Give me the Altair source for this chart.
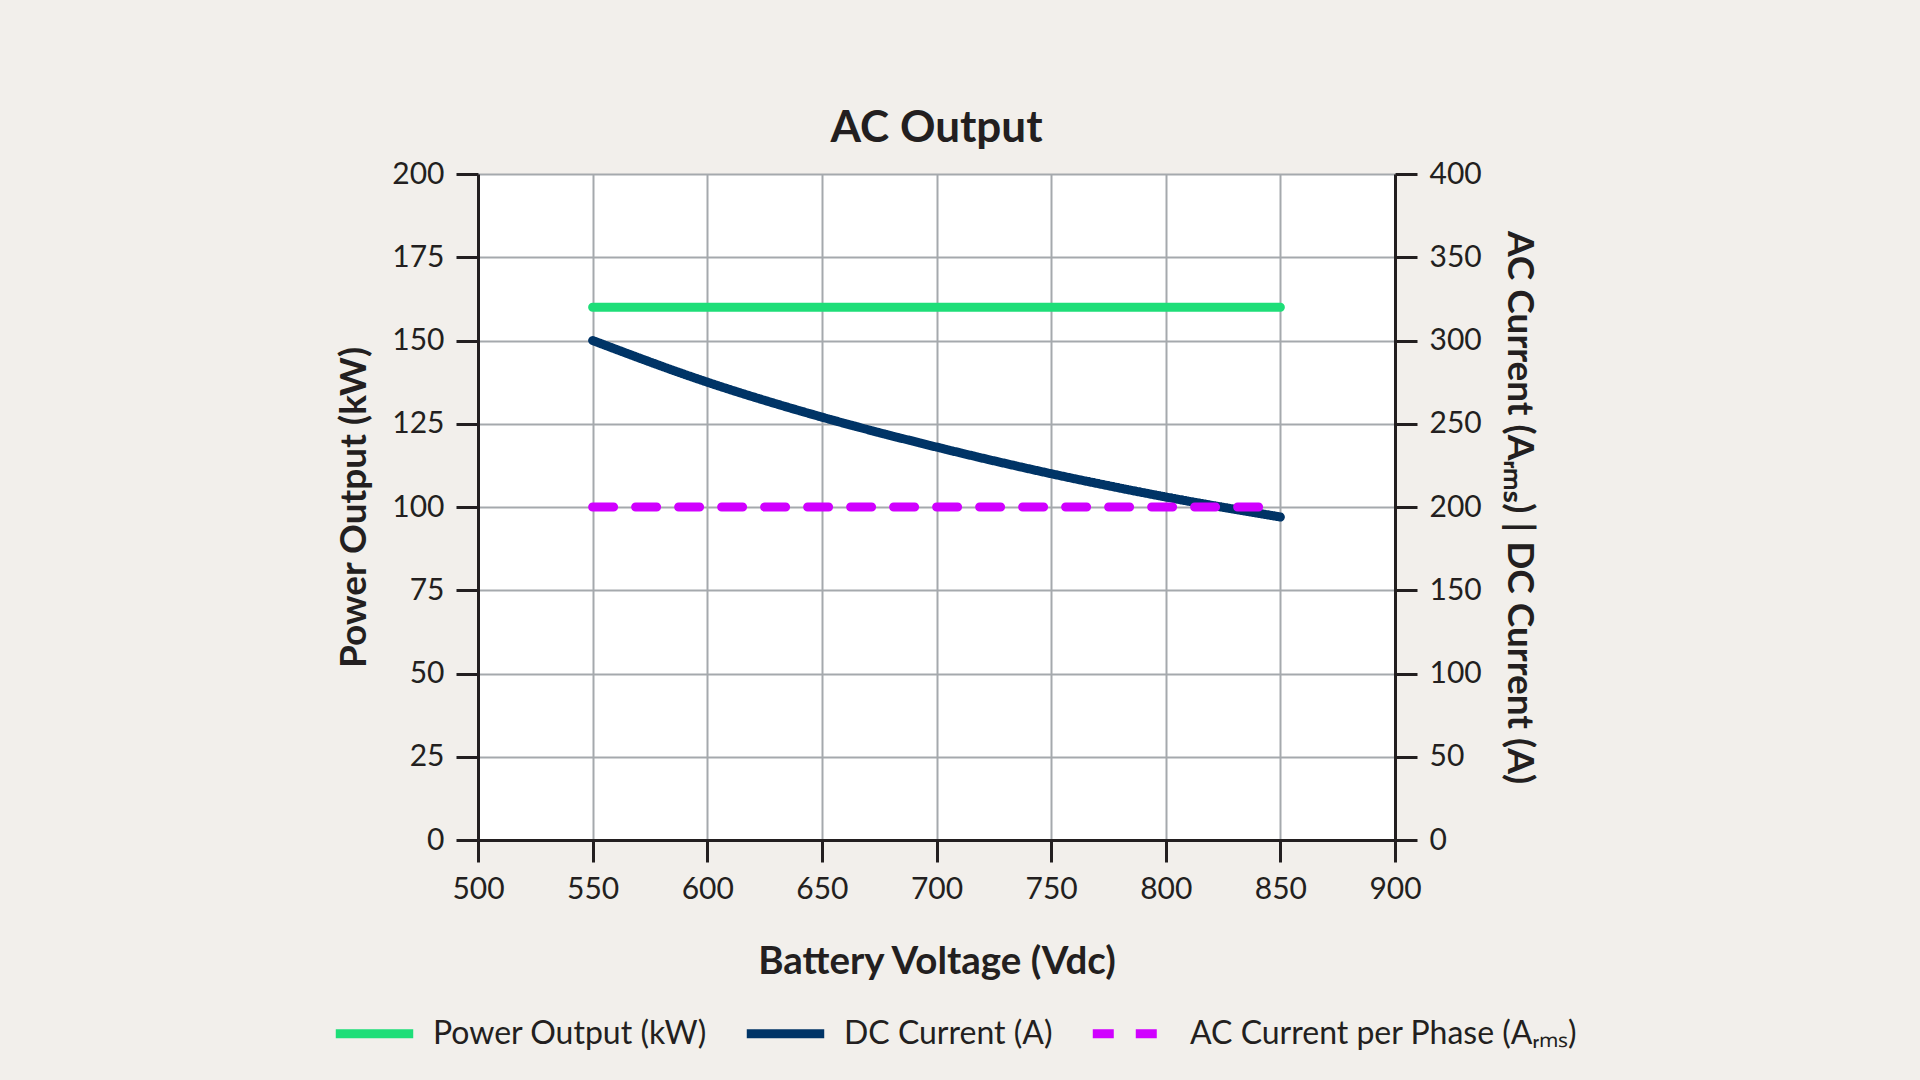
import altair as alt
import pandas as pd

voltage = [550, 600, 650, 700, 750, 800, 850]
power_kw = [160, 160, 160, 160, 160, 160, 160]
dc_current = [300, 275, 254, 236, 220, 206, 194]
ac_current = [200, 200, 200, 200, 200, 200, 200]

x_ticks = [500, 550, 600, 650, 700, 750, 800, 850, 900]
left_ticks = [0, 25, 50, 75, 100, 125, 150, 175, 200]
right_ticks = [0, 50, 100, 150, 200, 250, 300, 350, 400]

s_power = "Power Output (kW)"
s_dc = "DC Current (A)"
s_ac = "AC Current per Phase (A\u1d63\u2098\u209b)"
series_names = [s_power, s_dc, s_ac]
series_colors = ["#1EDE78", "#003466", "#D000FF"]
series_dash = [[1, 0], [1, 0], [21, 22]]

rows = []
for v, p, d, a in zip(voltage, power_kw, dc_current, ac_current):
    rows.append({"Voltage": v, "Series": s_power, "Value": p})
    rows.append({"Voltage": v, "Series": s_dc, "Value": d})
    rows.append({"Voltage": v, "Series": s_ac, "Value": a})
df = pd.DataFrame(rows)

FONT = "Lato"
TXT = "#231F20"

legend_def = alt.Legend(
    title=None, orient="none", direction="horizontal",
    legendX=-147, legendY=816,
    symbolType="stroke", symbolSize=6000, symbolStrokeWidth=9,
    labelFont=FONT, labelFontSize=32, labelColor=TXT, labelLimit=600,
    labelOffset=15, columnPadding=21,
)

color_enc = alt.Color(
    "Series:N",
    scale=alt.Scale(domain=series_names, range=series_colors),
    legend=legend_def,
)
dash_enc = alt.StrokeDash(
    "Series:N",
    scale=alt.Scale(domain=series_names, range=series_dash),
    legend=legend_def,
)

x_enc = alt.X(
    "Voltage:Q",
    scale=alt.Scale(domain=[500, 900], nice=False, zero=False),
    axis=alt.Axis(
        values=x_ticks, title="Battery Voltage (Vdc)", grid=True,
        titlePadding=39, labelFlush=False, titleFontSize=38.5,
    ),
)

left = alt.Chart(df).transform_filter(
    alt.datum.Series == s_power
).mark_line(strokeWidth=9, strokeCap="round").encode(
    x=x_enc,
    y=alt.Y(
        "Value:Q",
        scale=alt.Scale(domain=[0, 200], nice=False),
        axis=alt.Axis(values=left_ticks, title="Power Output (kW)", orient="left",
                      grid=True, titlePadding=18),
    ),
    color=color_enc,
    strokeDash=dash_enc,
)

right = alt.Chart(df).transform_filter(
    alt.datum.Series != s_power
).mark_line(strokeWidth=9, strokeCap="round", interpolate="monotone").encode(
    x=x_enc,
    y=alt.Y(
        "Value:Q",
        scale=alt.Scale(domain=[0, 400], nice=False),
        axis=alt.Axis(values=right_ticks,
                      title="AC Current (A\u1d63\u2098\u209b) | DC Current (A)",
                      orient="right", grid=False, titlePadding=18),
    ),
    color=color_enc,
    strokeDash=dash_enc,
)

chart = alt.layer(left, right).resolve_scale(y="independent").properties(
    width=917,
    height=666,
    autosize=alt.AutoSizeParams(type="none"),
    padding={"left": 478, "top": 174, "right": 525, "bottom": 240},
    title=alt.TitleParams(
        "AC Output", font=FONT, fontSize=44, fontWeight="bold", color=TXT,
        anchor="middle", offset=8,
    ),
).configure(
    background="#F2EFEB",
).configure_view(
    fill="white", stroke=None,
).configure_axis(
    labelFont=FONT, labelFontSize=30, labelColor=TXT,
    titleFont=FONT, titleFontSize=37, titleFontWeight="bold", titleColor=TXT,
    domainColor=TXT, domainWidth=3,
    tickColor=TXT, tickWidth=3, tickSize=22,
    gridColor="#A5A9AD", gridWidth=2,
    labelPadding=12,
)

chart.save("out.html", embed_options={"renderer": "svg", "actions": False})
